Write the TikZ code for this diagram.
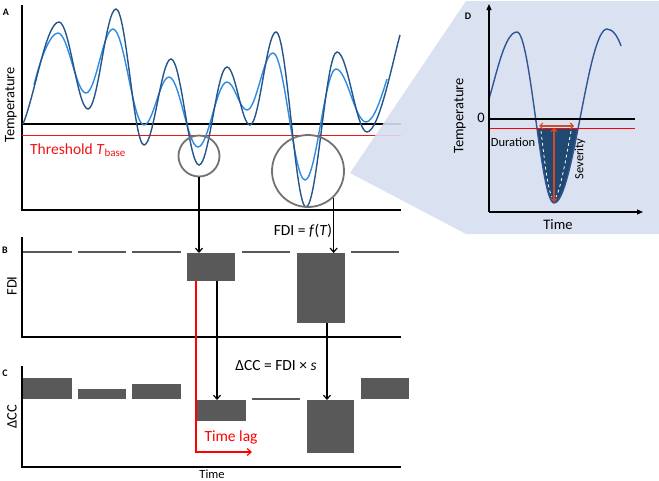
\documentclass[tikz,border=0pt]{standalone}
\usepackage{fontspec}
\setmainfont{Carlito}
\usetikzlibrary{arrows.meta}
\definecolor{darkc}{RGB}{36,84,140}
\definecolor{lightc}{RGB}{45,140,225}
\definecolor{dcurve}{RGB}{47,85,151}
\definecolor{navyfill}{RGB}{31,73,112}
\definecolor{boxgray}{RGB}{89,89,89}
\definecolor{circgray}{RGB}{118,113,113}
\definecolor{wedgec}{RGB}{214,222,239}
\definecolor{orred}{RGB}{214,72,38}
\definecolor{thred}{RGB}{240,20,20}
\tikzset{
  axisline/.style={black, line width=1.2pt},
  arr/.style={-{Straight Barb[length=4pt,width=7pt]}, line width=1.2pt},
  boxn/.style={fill=boxgray, draw=none, inner sep=0pt, outer sep=0pt, rectangle},
  dashseg/.style={boxgray, line width=2pt},
  circn/.style={circle, draw=circgray, line width=1.8pt, inner sep=0pt},
  lbl/.style={inner sep=0pt, font=\fontsize{14.5}{14.5}\selectfont},
  panel/.style={inner sep=0pt, font=\bfseries\fontsize{10}{10}\selectfont},
  darkcurve/.style={darkc, line width=1.4pt},
  lightcurve/.style={lightc, line width=1.4pt},
}
\begin{document}
\begin{tikzpicture}[x=1pt,y=-1pt]
\useasboundingbox (0,0) rectangle (659,480);

% ---------- Panel A ----------
\node[panel] (pA) at (6,12) {A};
\draw[axisline] (22,5) -- (22,210) -- (401,210);
\draw[black, line width=1.1pt] (22,124) -- (401,124);
\draw[thred, line width=1pt] (22,135) -- (401,135);
\node[lbl, rotate=90] (tempA) at (11,105) {Temperature};
\node[inner sep=0pt, anchor=west, text=thred, font=\fontsize{15.5}{15.5}\selectfont] (thr) at (30,150)
  {Threshold \textit{T}\raisebox{-2.5pt}{\fontsize{11}{11}\selectfont base}};

\draw[lightcurve] (34,85) .. controls (40,60) and (50,33) .. (58,33)
  \foreach \x/\y [remember=\x as \px (initially 58), remember=\y as \py (initially 33)] in
   {86/93, 113/29, 144/125, 169/77, 198/147, 227/82, 247/110, 273/53, 305/180, 336/69, 366/122}
  { .. controls ({\px+0.363*(\x-\px)},\py) and ({\x-0.363*(\x-\px)},\y) .. (\x,\y) }
  .. controls (374,122) and (382,95) .. (387,79);

\draw[darkcurve] (23,124) .. controls (35,95) and (46,22) .. (59,22)
  \foreach \x/\y [remember=\x as \px (initially 59), remember=\y as \py (initially 22)] in
   {88/109, 116/9, 144/145, 171/59, 199/165, 227/67, 250/125, 276/32, 306/207, 337/52, 367/132}
  { .. controls ({\px+0.363*(\x-\px)},\py) and ({\x-0.363*(\x-\px)},\y) .. (\x,\y) }
  .. controls (379,132) and (393,60) .. (400,35);

\node[circn, minimum size=41pt] (c1) at (199,156) {};
\node[circn, minimum size=72pt] (c2) at (308,171) {};

% ---------- Wedge + Panel D background ----------
\fill[wedgec, opacity=0.9] (350,173) -- (466,1) -- (659,1) -- (659,234) -- (466,234) -- cycle;

% ---------- Panel D ----------
\node[panel] (pD) at (468,16) {D};
\begin{scope}
  \clip (489,128) rectangle (640,212);
  \fill[navyfill] (517,32) .. controls (530.4,32) and (540.6,203) .. (554,203)
     .. controls (573.2,203) and (587.8,29) .. (607,29) -- cycle;
\end{scope}
\draw[white, line width=0.8pt, dash pattern=on 3pt off 3pt] (541,131) .. controls (545,165) and (548,190) .. (552,197);
\draw[white, line width=0.8pt, dash pattern=on 3pt off 3pt] (571,131) .. controls (565,165) and (560,190) .. (556,197);
\draw[dcurve, line width=1.4pt] (489,99) .. controls (497,72) and (505,32) .. (517,32)
   .. controls (530.4,32) and (540.6,203) .. (554,203)
   .. controls (573.2,203) and (587.8,29) .. (607,29)
   .. controls (613,29) and (618,37) .. (621,46);
\draw[black, line width=1.2pt] (489,119) -- (635,119);
\draw[red, line width=1pt] (489,128) -- (635,128);
\draw[line width=1.2pt, -{Triangle[length=6pt,width=5pt]}] (489,212) -- (489,4);
\draw[line width=1.2pt, -{Triangle[length=6pt,width=5pt]}] (489,212) -- (643,212);
\coordinate (hl) at (539,126);
\coordinate (hr) at (574,126);
\coordinate (vt) at (554,128);
\coordinate (vb) at (554,202);
\draw[orred, line width=1.1pt, {Straight Barb[length=3pt,width=6pt]}-{Straight Barb[length=3pt,width=6pt]}] (hl) -- (hr);
\draw[orred, line width=1.1pt, {Straight Barb[length=3pt,width=6pt]}-{Straight Barb[length=3pt,width=6pt]}] (vt) -- (vb);
\node[lbl, rotate=90] (tempD) at (460,116) {Temperature};
\node[lbl] (zero) at (481,118) {0};
\node[lbl] (timeD) at (558,225) {Time};
\node[inner sep=0pt, font=\fontsize{12.5}{12.5}\selectfont] (dur) at (513,142) {Duration};
\node[inner sep=0pt, rotate=90, font=\fontsize{12.5}{12.5}\selectfont] (sev) at (580,159) {Severity};

% ---------- Panel B ----------
\node[panel] (pB) at (5,250) {B};
\draw[axisline] (22,237) -- (22,337) -- (401,337);
\node[lbl, rotate=90] (fdil) at (12,286) {FDI};
\draw[dashseg] (23,252) -- (72,252);
\draw[dashseg] (78,252) -- (126,252);
\draw[dashseg] (132,252) -- (181,252);
\draw[dashseg] (242,252) -- (290,252);
\draw[dashseg] (351,252) -- (399,252);
\node[boxn, minimum width=48pt, minimum height=28pt] (b1) at (211,267) {};
\node[boxn, minimum width=48pt, minimum height=70pt] (b2) at (321,288) {};
\node[inner sep=0pt, font=\fontsize{15.5}{15.5}\selectfont] (fdif) at (303,231) {FDI = \textit{f}(\textit{T})};

\draw[arr] (c1.south) -- (c1.south |- b1.north);
\draw[arr] (c2.-46) -- (c2.-46 |- b2.north);

% ---------- Panel C ----------
\node[panel] (pC) at (5,373) {C};
\draw[axisline] (22,366) -- (22,467) -- (401,467);
\node[lbl, rotate=90] (dccl) at (12,417) {ΔCC};
\node[boxn, minimum width=49pt, minimum height=21pt] (cc1) at (47.5,388.5) {};
\node[boxn, minimum width=48pt, minimum height=10pt] (cc2) at (102,394) {};
\node[boxn, minimum width=49pt, minimum height=15pt] (cc3) at (156.5,391.5) {};
\node[boxn, minimum width=49pt, minimum height=21pt] (cc4) at (221.5,410.5) {};
\draw[boxgray, line width=1.5pt] (252,399) -- (300,399);
\node[boxn, minimum width=47pt, minimum height=53pt] (cc6) at (330.5,426.5) {};
\node[boxn, minimum width=48pt, minimum height=21pt] (cc7) at (385,388.5) {};
\node[inner sep=0pt, font=\fontsize{15.5}{15.5}\selectfont] (dccf) at (276,366) {ΔCC = FDI × \textit{s}};

\draw[arr] ([xshift=6pt]b1.south) -- ([xshift=6pt]b1.south |- cc4.north);
\draw[arr] ([xshift=6pt]b2.south) -- ([xshift=6pt]b2.south |- cc6.north);

\coordinate (lagend) at (252,452);
\draw[red, line width=1.2pt, -{Straight Barb[length=4pt,width=7pt]}] ([xshift=-15pt]b1.south) |- (lagend);
\node[inner sep=0pt, text=red, font=\fontsize{15.5}{15.5}\selectfont] (lag) at (231,437) {Time lag};
\node[inner sep=0pt, font=\fontsize{12.5}{12.5}\selectfont] (timeC) at (212,474) {Time};
\end{tikzpicture}
\end{document}
